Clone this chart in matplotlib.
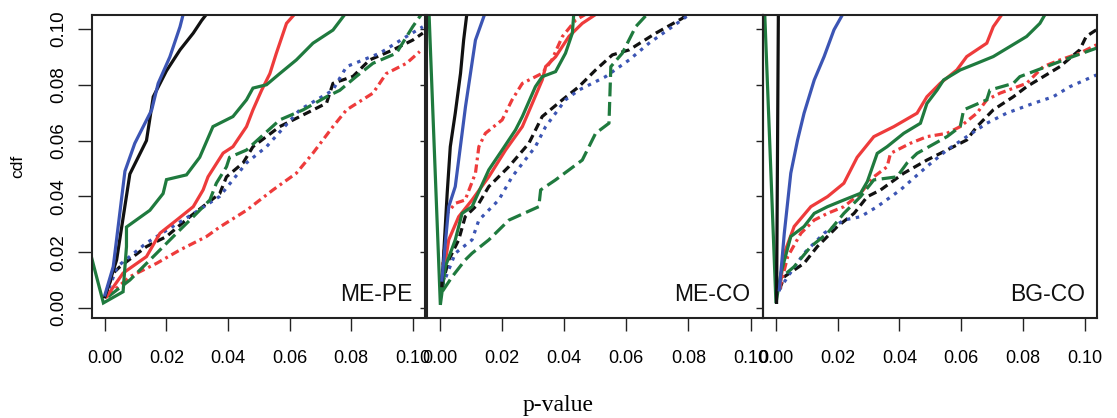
import matplotlib
matplotlib.use("Agg")
import matplotlib.pyplot as plt

plt.rcParams['lines.scale_dashes'] = False

# ---------------- data (x = p-value, y = cdf) ----------------
panel_names = ["ME-PE", "ME-CO", "BG-CO"]
x_ticks = [0.00, 0.02, 0.04, 0.06, 0.08, 0.10]
x_tick_labels = ["0.00", "0.02", "0.04", "0.06", "0.08", "0.10"]
y_ticks = [0.00, 0.02, 0.04, 0.06, 0.08, 0.10]
y_tick_labels = ["0.00", "0.02", "0.04", "0.06", "0.08", "0.10"]

# ME-PE
mepe_blue_solid = [(0.0, 0.0047), (0.0027, 0.0148), (0.0065, 0.049), (0.0097, 0.059), (0.0152, 0.071),
                   (0.0173, 0.0805), (0.0211, 0.090), (0.0244, 0.1008), (0.0256, 0.106)]
mepe_black_solid = [(0.0, 0.004), (0.0038, 0.0172), (0.0081, 0.048), (0.0135, 0.060), (0.0157, 0.0757),
                    (0.020, 0.085), (0.0244, 0.0925), (0.0287, 0.0985), (0.0314, 0.103), (0.0335, 0.106)]
mepe_red_solid = [(0.0005, 0.004), (0.0059, 0.0125), (0.0135, 0.0184), (0.0179, 0.0268), (0.0233, 0.0315),
                  (0.0287, 0.0363), (0.0319, 0.0423), (0.0335, 0.047), (0.0384, 0.0555), (0.0416, 0.0578),
                  (0.046, 0.065), (0.0481, 0.071), (0.0509, 0.078), (0.0536, 0.084), (0.0557, 0.0913),
                  (0.059, 0.102), (0.0622, 0.106)]
mepe_green_solid = [(-0.0043, 0.0179), (-0.0005, 0.0018), (0.0059, 0.0058), (0.007, 0.022), (0.007, 0.029),
                    (0.0146, 0.035), (0.0189, 0.041), (0.020, 0.046), (0.0265, 0.0477), (0.0308, 0.054),
                    (0.0351, 0.065), (0.0416, 0.0686), (0.046, 0.0746), (0.0481, 0.0788), (0.0525, 0.080),
                    (0.0568, 0.084), (0.0622, 0.0889), (0.0676, 0.0949), (0.0741, 0.0996), (0.0785, 0.106)]
mepe_black_dashed = [(0.0, 0.004), (0.0027, 0.0125), (0.0049, 0.0148), (0.0135, 0.022), (0.020, 0.0256),
                     (0.0276, 0.0327), (0.0373, 0.041), (0.0395, 0.047), (0.0449, 0.052), (0.0481, 0.0578),
                     (0.0568, 0.065), (0.0655, 0.0698), (0.072, 0.0734), (0.0741, 0.0805), (0.0806, 0.083),
                     (0.086, 0.0889), (0.0936, 0.0925), (0.100, 0.096), (0.1033, 0.0985)]
mepe_blue_dotted = [(0.0003, 0.004), (0.004, 0.0148), (0.0135, 0.0233), (0.029, 0.034), (0.0373, 0.040),
                    (0.046, 0.052), (0.0525, 0.0578), (0.0633, 0.071), (0.074, 0.078), (0.0785, 0.0865),
                    (0.0893, 0.0913), (0.098, 0.0973), (0.1033, 0.1008)]
mepe_red_dashdot = [(0.0005, 0.004), (0.0081, 0.0112), (0.0168, 0.016), (0.0244, 0.0208), (0.033, 0.0256),
                    (0.0373, 0.029), (0.046, 0.035), (0.0546, 0.0423), (0.0622, 0.0483), (0.0676, 0.0555),
                    (0.0741, 0.065), (0.0785, 0.071), (0.0871, 0.077), (0.0914, 0.084), (0.098, 0.0877),
                    (0.1023, 0.0919)]
mepe_green_dashed = [(0.001, 0.004), (0.0081, 0.010), (0.0168, 0.0196), (0.0233, 0.0268), (0.0287, 0.0327),
                     (0.0341, 0.0387), (0.0362, 0.0447), (0.0395, 0.0506), (0.0405, 0.054), (0.046, 0.0566),
                     (0.0568, 0.0674), (0.0644, 0.071), (0.072, 0.0757), (0.0763, 0.078), (0.0817, 0.083),
                     (0.0871, 0.0877), (0.0947, 0.0913), (0.100, 0.1008), (0.1033, 0.106)]

# ME-CO
meco_blue_solid = [(0.0006, 0.010), (0.0028, 0.0363), (0.0049, 0.0435), (0.0071, 0.0626), (0.0082, 0.0722),
                   (0.0098, 0.0841), (0.0114, 0.096), (0.0146, 0.106)]
meco_black_solid = [(0.0006, 0.008), (0.0023, 0.0411), (0.0033, 0.0578), (0.0049, 0.0698), (0.0066, 0.0841),
                    (0.0076, 0.096), (0.0087, 0.106)]
meco_red_solid = [(0.0006, 0.009), (0.0028, 0.0244), (0.006, 0.0327), (0.0103, 0.0387), (0.0157, 0.047),
                  (0.0211, 0.0566), (0.0265, 0.065), (0.0297, 0.0733), (0.0329, 0.0817), (0.034, 0.0865),
                  (0.0372, 0.090), (0.0415, 0.0973), (0.0458, 0.102), (0.0512, 0.106)]
meco_green_solid = [(-0.0037, 0.11), (0.0001, 0.0011), (0.0017, 0.0148), (0.0049, 0.0244), (0.0071, 0.0339),
                    (0.0103, 0.0363), (0.0157, 0.0495), (0.020, 0.0566), (0.0243, 0.0638), (0.0265, 0.0686),
                    (0.0307, 0.0793), (0.0329, 0.0829), (0.0372, 0.0847), (0.0404, 0.0913), (0.0426, 0.0985),
                    (0.0431, 0.106)]
meco_black_dashed = [(0.0006, 0.008), (0.0028, 0.0172), (0.006, 0.0244), (0.0081, 0.0327), (0.0125, 0.0375),
                     (0.0157, 0.0435), (0.0222, 0.0507), (0.0286, 0.059), (0.0329, 0.0686), (0.0394, 0.0746),
                     (0.0447, 0.0793), (0.0501, 0.0853), (0.0555, 0.0907), (0.0609, 0.0925), (0.0695, 0.0985),
                     (0.078, 0.1038), (0.0802, 0.106)]
meco_blue_dotted = [(0.0008, 0.008), (0.0049, 0.0196), (0.0103, 0.0244), (0.0125, 0.0315), (0.0189, 0.0387),
                    (0.0232, 0.047), (0.0307, 0.0578), (0.034, 0.065), (0.0404, 0.0746), (0.0447, 0.0781),
                    (0.0533, 0.0829), (0.0609, 0.0889), (0.0673, 0.0949), (0.0748, 0.1008), (0.0813, 0.106)]
meco_red_dashdot = [(0.0006, 0.011), (0.0023, 0.0339), (0.0049, 0.0375), (0.0081, 0.0387), (0.0114, 0.0483),
                    (0.0125, 0.0578), (0.0146, 0.0626), (0.020, 0.0674), (0.0232, 0.0746), (0.0265, 0.0805),
                    (0.0329, 0.0841), (0.036, 0.0889), (0.0394, 0.0973), (0.0437, 0.1032), (0.048, 0.106)]
meco_green_dashed = [(0.0008, 0.006), (0.0039, 0.0112), (0.0081, 0.0172), (0.0103, 0.0196), (0.0157, 0.0244),
                     (0.0222, 0.0315), (0.0318, 0.0363), (0.0324, 0.0423), (0.0372, 0.0459), (0.0458, 0.053),
                     (0.0501, 0.0626), (0.0544, 0.0662), (0.055, 0.0865), (0.0587, 0.0913), (0.063, 0.1008),
                     (0.0673, 0.106)]

# BG-CO
bgco_blue_solid = [(0.0011, 0.0065), (0.0027, 0.0268), (0.0048, 0.0483), (0.007, 0.0602), (0.0091, 0.0698),
                   (0.0124, 0.0817), (0.0156, 0.0901), (0.0188, 0.0997), (0.022, 0.106)]
bgco_black_solid = [(0.0002, 0.002), (0.0008, 0.11)]
bgco_red_solid = [(0.0013, 0.0075), (0.0027, 0.0196), (0.0059, 0.0292), (0.0113, 0.0363), (0.0167, 0.0399),
                  (0.022, 0.0447), (0.0263, 0.054), (0.0317, 0.0614), (0.0382, 0.065), (0.0457, 0.0698),
                  (0.0489, 0.0757), (0.0532, 0.0805), (0.0586, 0.0853), (0.0618, 0.0901), (0.0683, 0.0949),
                  (0.0704, 0.1008), (0.0737, 0.106)]
bgco_green_solid = [(-0.0038, 0.11), (0.0, 0.0017), (0.0016, 0.0124), (0.0048, 0.0256), (0.0091, 0.0292),
                    (0.0124, 0.0339), (0.0167, 0.0363), (0.022, 0.0387), (0.0274, 0.0411), (0.0296, 0.0453),
                    (0.0328, 0.0554), (0.036, 0.0578), (0.0414, 0.0626), (0.0468, 0.0662), (0.0489, 0.0733),
                    (0.0522, 0.0781), (0.0543, 0.0817), (0.0597, 0.0853), (0.0651, 0.0877), (0.0704, 0.0901),
                    (0.0758, 0.0937), (0.0812, 0.0973), (0.0855, 0.102), (0.0876, 0.106)]
bgco_black_dashed = [(0.0011, 0.0065), (0.0027, 0.0112), (0.0091, 0.016), (0.0134, 0.022), (0.0199, 0.0292),
                     (0.0253, 0.0339), (0.0296, 0.0399), (0.0339, 0.0423), (0.0414, 0.0483), (0.0489, 0.053),
                     (0.0554, 0.0566), (0.0618, 0.0602), (0.0651, 0.065), (0.0704, 0.071), (0.0769, 0.0757),
                     (0.0812, 0.0793), (0.0866, 0.0829), (0.092, 0.0865), (0.0984, 0.0925), (0.1005, 0.0973),
                     (0.1038, 0.0997)]
bgco_blue_dotted = [(0.0011, 0.0065), (0.0038, 0.0112), (0.0091, 0.0196), (0.0156, 0.0268), (0.022, 0.0315),
                    (0.0274, 0.0327), (0.0328, 0.0363), (0.0403, 0.0423), (0.0489, 0.0507), (0.0554, 0.0566),
                    (0.0618, 0.0614), (0.0683, 0.0662), (0.0747, 0.0698), (0.0833, 0.0733), (0.0898, 0.0757),
                    (0.0952, 0.0793), (0.1038, 0.0835)]
bgco_red_dashdot = [(0.0011, 0.0065), (0.0038, 0.0184), (0.0081, 0.0268), (0.0124, 0.0315), (0.0167, 0.0339),
                    (0.022, 0.0363), (0.0274, 0.0411), (0.0317, 0.047), (0.036, 0.0506), (0.0371, 0.0554),
                    (0.0435, 0.059), (0.0489, 0.0614), (0.0554, 0.0626), (0.0597, 0.065), (0.0651, 0.0698),
                    (0.0683, 0.0746), (0.0726, 0.077), (0.0812, 0.0805), (0.0866, 0.0865), (0.092, 0.0889),
                    (0.0984, 0.0913), (0.1038, 0.0943)]
bgco_green_dashed = [(0.0011, 0.0065), (0.0016, 0.0108), (0.0059, 0.0148), (0.0113, 0.022), (0.0167, 0.0268),
                     (0.022, 0.0339), (0.0274, 0.0399), (0.0317, 0.0459), (0.0392, 0.047), (0.0425, 0.052),
                     (0.0457, 0.0554), (0.0554, 0.0614), (0.0597, 0.065), (0.0608, 0.071), (0.0683, 0.0746),
                     (0.0693, 0.0781), (0.0769, 0.0805), (0.079, 0.0829), (0.0876, 0.0865), (0.0962, 0.0901),
                     (0.1038, 0.0931)]

# ---------------- styles ----------------
BLUE = "#3c55b4"
BLACK = "#111111"
RED = "#ee3b3b"
GREEN = "#1f7a3e"
LW = 2.3
styles = {
    "black_dashed": dict(color=BLACK, dashes=(6, 3.5)),
    "blue_dotted": dict(color=BLUE, dashes=(2.5, 4)),
    "red_dashdot": dict(color=RED, dashes=(6, 3, 2, 3)),
    "green_dashed": dict(color=GREEN, dashes=(10, 4)),
    "red_solid": dict(color=RED),
    "green_solid": dict(color=GREEN),
    "black_solid": dict(color=BLACK),
    "blue_solid": dict(color=BLUE),
}

panels = [
    {"black_dashed": mepe_black_dashed, "blue_dotted": mepe_blue_dotted, "red_dashdot": mepe_red_dashdot,
     "green_dashed": mepe_green_dashed, "red_solid": mepe_red_solid, "green_solid": mepe_green_solid,
     "black_solid": mepe_black_solid, "blue_solid": mepe_blue_solid},
    {"black_dashed": meco_black_dashed, "blue_dotted": meco_blue_dotted, "red_dashdot": meco_red_dashdot,
     "green_dashed": meco_green_dashed, "red_solid": meco_red_solid, "green_solid": meco_green_solid,
     "black_solid": meco_black_solid, "blue_solid": meco_blue_solid},
    {"black_dashed": bgco_black_dashed, "blue_dotted": bgco_blue_dotted, "red_dashdot": bgco_red_dashdot,
     "green_dashed": bgco_green_dashed, "red_solid": bgco_red_solid, "green_solid": bgco_green_solid,
     "black_solid": bgco_black_solid, "blue_solid": bgco_blue_solid},
]

W, H = 1117, 418
fig = plt.figure(figsize=(W / 100, H / 100), dpi=100)
boxes = [(92, 425), (427, 763), (763, 1097)]
top, bottom = 15, 318

for i, ((l, r), data, name) in enumerate(zip(boxes, panels, panel_names)):
    ax = fig.add_axes([l / W, (H - bottom) / H, (r - l) / W, (bottom - top) / H])
    ax.set_xlim(-0.0042, 0.104)
    ax.set_ylim(-0.0036, 0.105)
    for key, pts in data.items():
        xs = [p[0] for p in pts]
        ys = [p[1] for p in pts]
        ax.plot(xs, ys, lw=LW, solid_joinstyle="miter", dash_capstyle="butt", **styles[key])
    ax.text(0.1, 0.0047, name, ha="right", va="center", fontsize=16.5,
            family="Liberation Sans", color="#111111")
    ax.set_xticks(x_ticks)
    ax.set_xticklabels(x_tick_labels, family="Liberation Sans", fontsize=13)
    ax.tick_params(axis="x", length=9, width=1, pad=14, color="#222222")
    ax.set_yticks(y_ticks)
    if i == 0:
        ax.set_yticklabels(y_tick_labels, family="Liberation Sans", fontsize=13.5,
                           rotation=90, va="center")
        ax.tick_params(axis="y", length=10, width=1, pad=8, color="#222222")
        ax.set_ylabel("cdf", family="Liberation Sans", fontsize=12.5, labelpad=18)
    else:
        ax.set_yticklabels([])
        ax.tick_params(axis="y", length=5, width=1, color="#222222")
    for s in ax.spines.values():
        s.set_linewidth(1.5)
        s.set_color("#222222")
    ax.set_zorder(3 - i)
    ax.patch.set_alpha(0)

fig.text(558 / W, 1 - 405 / H, "p-value", ha="center", va="center",
         family="Liberation Serif", fontsize=17)

fig.savefig("out.png", dpi=100)
